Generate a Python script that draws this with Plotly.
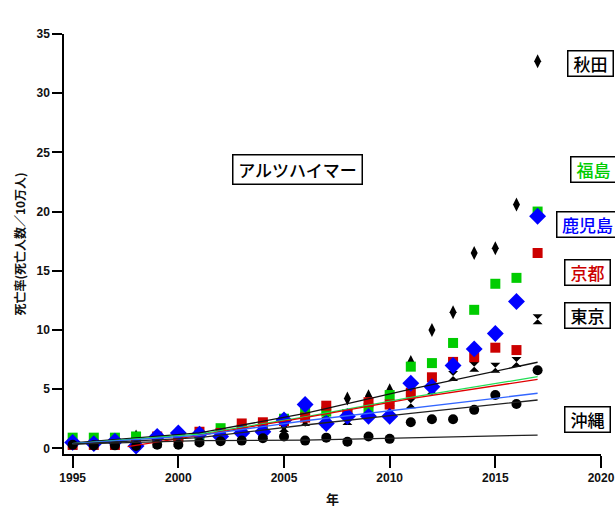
import plotly.graph_objects as go

years = list(range(1995, 2018))

akita = [0.5, 0.4, 0.5, 1.0, 0.6, 0.8, 0.9, 1.0, 1.3, 1.6, 1.9, 2.4, 2.8, 4.2, 4.4, 4.9, 7.3, 10.0, 11.5, 16.5, 16.9, 20.6, 32.7]
tokyo = [0.3, 0.3, 0.3, 0.4, 0.5, 0.6, 0.7, 0.9, 1.5, 1.4, 1.8, 2.3, 2.2, 2.4, 3.0, 3.2, 3.8, 5.0, 6.1, 6.9, 6.8, 7.3, 10.9]
fukushima = [0.9, 0.9, 0.9, 1.0, 0.9, 1.0, 1.1, 1.7, 1.6, 1.9, 2.5, 3.2, 3.1, 2.9, 3.4, 4.5, 6.9, 7.2, 8.9, 11.7, 13.9, 14.4, 20.0]
kyoto = [0.3, 0.3, 0.3, 0.3, 1.0, 0.9, 1.4, 1.3, 2.1, 2.2, 2.3, 2.6, 3.6, 2.9, 3.9, 3.7, 4.7, 6.0, 7.3, 7.7, 8.5, 8.3, 16.5]
kagoshima = [0.5, 0.4, 0.6, 0.2, 1.0, 1.3, 1.2, 1.0, 1.3, 1.4, 2.4, 3.7, 2.1, 2.7, 2.7, 2.7, 5.5, 5.2, 7.0, 8.4, 9.7, 12.4, 19.6]
okinawa = [0.3, 0.25, 0.25, 0.2, 0.3, 0.3, 0.5, 0.6, 0.65, 0.85, 1.0, 0.65, 0.9, 0.55, 1.0, 0.8, 2.2, 2.45, 2.45, 3.25, 4.5, 3.75, 6.6]

trend_years = [1995, 2001, 2006, 2011, 2017]
trend_red_years = [1997.6, 2001, 2006, 2011, 2017]
trend_black_top = [0.45, 1.3, 2.95, 5.0, 7.27]
trend_green = [0.4, 1.2, 2.65, 4.3, 6.05]
trend_red = [0.15, 1.1, 2.6, 4.2, 5.83]
trend_blue = [0.4, 1.1, 2.33, 3.38, 4.65]
trend_black_low = [0.35, 0.9, 1.97, 2.96, 4.08]
trend_black_flat = [0.35, 0.65, 0.7, 0.9, 1.12]

x_ticks = [1995, 2000, 2005, 2010, 2015, 2020]
y_ticks = [0, 5, 10, 15, 20, 25, 30, 35]

labels = ["秋田", "福島", "鹿児島", "京都", "東京", "沖縄"]
title_text = "アルツハイマー"

BLACK = "#000000"
GREEN = "#00cc00"
RED = "#cc0000"
BLUE = "#0000ff"

fig = go.Figure()

def add_pts(y, color, symbol, size):
    fig.add_trace(go.Scatter(x=years, y=y, mode="markers",
                             marker=dict(color=color, symbol=symbol, size=size, line=dict(width=0)),
                             showlegend=False, cliponaxis=False))

add_pts(akita, BLACK, "diamond-tall", 10)
add_pts(tokyo, BLACK, "hourglass", 10)
add_pts(fukushima, GREEN, "square", 10)
add_pts(kyoto, RED, "square", 10)
add_pts(kagoshima, BLUE, "diamond", 13)
add_pts(okinawa, BLACK, "circle", 10)

def add_line(xs, ys, color):
    fig.add_trace(go.Scatter(x=xs, y=ys, mode="lines", line=dict(color=color, width=1.3),
                             showlegend=False))

add_line(trend_years, trend_black_top, "#111111")
add_line(trend_years, trend_green, "#22dd55")
add_line(trend_red_years, trend_red, "#e00000")
add_line(trend_years, trend_blue, "#3366ff")
add_line(trend_years, trend_black_low, "#222222")
add_line(trend_years, trend_black_flat, "#222222")

label_font = "Noto Sans CJK JP"
ann_specs = [
    (labels[0], BLACK, 0.9361, 0.9286, 47),
    (labels[1], GREEN, 0.9423, 0.6769, 47),
    (labels[2], BLUE, 0.9156, 0.5469, 63),
    (labels[3], RED, 0.9311, 0.4310, 47),
    (labels[4], BLACK, 0.9311, 0.3286, 47),
    (labels[5], BLACK, 0.9311, 0.0821, 47),
]
for txt, col, px, py, w in ann_specs:
    fig.add_annotation(text=txt, x=px, y=py, xref="paper", yref="paper",
                       xanchor="left", yanchor="middle", showarrow=False,
                       font=dict(family=label_font, size=17, color=col, weight=500),
                       bordercolor="#000000", borderwidth=1.5, borderpad=0,
                       width=w - 3, height=24, bgcolor="white")

fig.add_annotation(text=title_text, x=0.3123, y=0.6774, xref="paper", yref="paper",
                   xanchor="left", yanchor="middle", showarrow=False,
                   font=dict(family=label_font, size=17, color=BLACK, weight=500),
                   bordercolor="#000000", borderwidth=1.5, borderpad=0,
                   width=128, height=28, bgcolor="white")

tick_font = dict(family="Liberation Sans, Arial", size=12, color="#111111", weight="bold")

fig.update_layout(
    template="none",
    width=615, height=508,
    margin=dict(l=64, r=14, t=34, b=54),
    paper_bgcolor="white", plot_bgcolor="white",
    font=dict(family="Liberation Sans, Arial", size=12, color="#111111"),
    xaxis=dict(range=[1994.59, 2020], tickvals=x_ticks, ticktext=[str(v) for v in x_ticks],
               automargin=False,
               showgrid=False, zeroline=False, showline=True, linecolor="black", linewidth=1.5,
               ticks="outside", ticklen=12, tickwidth=1.5, tickcolor="black",
               tickfont=tick_font,
               title=dict(text="年", font=dict(family=label_font, size=13, color="#111111", weight="bold"), standoff=12)),
    yaxis=dict(range=[-0.48, 35], tickvals=y_ticks, ticktext=[str(v) for v in y_ticks],
               automargin=False,
               showgrid=False, zeroline=False, showline=True, linecolor="black", linewidth=1.5,
               ticks="outside", ticklen=10, tickwidth=1.5, tickcolor="black",
               tickfont=tick_font,
               title=dict(text="死亡率(死亡人数／10万人)", font=dict(family=label_font, size=12, color="#111111", weight="bold"), standoff=8)),
)

fig.write_html("out.html", config={"displayModeBar": False},
               post_script="document.body.style.margin='0';document.body.style.overflow='hidden';")
